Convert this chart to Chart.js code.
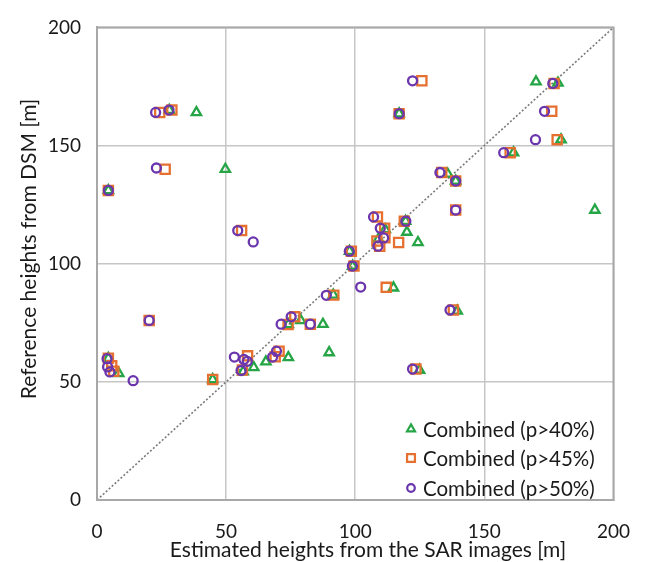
<!DOCTYPE html>
<html>
<head>
<meta charset="utf-8">
<script src="https://cdn.jsdelivr.net/npm/chart.js@4.4.1/dist/chart.umd.min.js"></script>
<style>
  html, body { margin: 0; padding: 0; background: #fff; }
  canvas { display: block; }
</style>
</head>
<body>
<canvas id="chart" width="650" height="562"></canvas>
<script>
// Серии и подписи
const seriesLabels = ['Combined (p>40%)', 'Combined (p>45%)', 'Combined (p>50%)'];
const axisTicks = [0, 50, 100, 150, 200];
const diagX = [0, 200];
const diagY = [0, 200];

// p>40% (треугольники)
const p40X = [38.5, 28, 49.7, 4.4, 117, 170, 178.5, 179.7, 161.3, 135.8, 138.9, 192.8, 111.6, 120, 124.3, 119.5, 97.8, 99, 91.5, 78.9, 74.1, 87.5, 89.9, 74.1, 65.4, 60.7, 56.6, 44.8, 8.4, 4.4, 114.8, 139.5, 124.9, 109];
const p40Y = [164, 165, 140, 131, 163.5, 177, 176.5, 152.5, 147, 138, 135, 122.7, 114.5, 113.4, 109, 118, 105.3, 99, 86.8, 76, 74.3, 74.4, 62.4, 60.3, 58.5, 56.1, 54.3, 51, 53.6, 60, 89.8, 80, 55, 110.5];

// p>45% (квадраты)
const p45X = [24.3, 29, 26.4, 4.4, 56, 125.8, 117, 177, 176.1, 178.2, 160, 133.5, 138.9, 138.9, 108.6, 119, 111.4, 108.4, 109.5, 116.8, 98.5, 99.5, 91.7, 112, 20.2, 76.6, 74, 82.6, 70.5, 69, 58.3, 56.3, 44.8, 4.4, 5.7, 6.5, 138, 123.5, 111.5];
const p45Y = [164, 165, 140, 131, 114, 177.4, 163.5, 176.3, 164.5, 152.5, 147, 138.6, 135, 122.7, 119.8, 118, 115, 109.6, 107.4, 109, 105.3, 99, 86.7, 90, 76, 77.5, 74.3, 74.4, 63, 60.6, 61, 55, 51, 60, 56.8, 54.5, 80.4, 55.4, 111];

// p>50% (круги)
const p50X = [22.7, 27.9, 23, 4.4, 54.5, 60.5, 122.2, 117, 176.5, 173.3, 169.8, 157.5, 132.8, 138.9, 138.9, 107.1, 119.6, 109.7, 111, 108.8, 97.7, 98.9, 102.1, 88.8, 20.2, 75.2, 71.3, 82.6, 69.5, 68, 53.2, 56.9, 58.2, 55.8, 14, 3.9, 4.1, 5, 136.7, 122.2];
const p50Y = [164, 165, 140.5, 131, 114, 109.2, 177.4, 163.5, 176.3, 164.5, 152.5, 147, 138.6, 135, 122.7, 119.8, 118, 115, 110.9, 107.4, 105.3, 99, 90.1, 86.6, 76, 77.5, 74.4, 74.4, 63, 60.5, 60.5, 59.5, 58.7, 54.8, 50.5, 59.8, 56.3, 54.2, 80.4, 55.4];

const colors = ['#25a545', '#e6702f', '#6a35ad'];
const styles = ['triangle', 'rect', 'circle'];
const radii = [5.4, 6.5, 4.5];
const legendRadii = [4.6, 5.6, 3.8];
const FONT = 'Lato, "Open Sans", sans-serif';
const TEXT = '#1a1a1a';

const toPoints = (xs, ys) => xs.map((x, i) => ({ x, y: ys[i] }));

function makeSeries(idx, xs, ys) {
  return {
    label: seriesLabels[idx],
    data: toPoints(xs, ys),
    pointStyle: styles[idx],
    pointRadius: radii[idx],
    pointBorderWidth: 2.3,
    borderColor: colors[idx],
    backgroundColor: 'rgba(255,255,255,0)',
    order: 2 - idx
  };
}

// Подписи осей и легенда внутри графика
const overlay = {
  id: 'overlay',
  afterDraw(chart) {
    const ctx = chart.ctx;
    const a = chart.chartArea;
    ctx.save();
    // рамка
    ctx.strokeStyle = '#a8a8a8';
    ctx.lineWidth = 2;
    ctx.strokeRect(a.left, a.top, a.right - a.left, a.bottom - a.top);

    ctx.fillStyle = TEXT;
    ctx.font = '21px ' + FONT;
    ctx.textAlign = 'center';
    ctx.textBaseline = 'middle';
    ctx.fillText('Estimated heights from the SAR images [m]', 368, 550);

    ctx.save();
    ctx.translate(29, 249);
    ctx.rotate(-Math.PI / 2);
    ctx.fillText('Reference heights from DSM [m]', 0, 0);
    ctx.restore();

    // легенда
    const rows = [429, 458, 488];
    ctx.font = '20.5px ' + FONT;
    ctx.textAlign = 'left';
    seriesLabels.forEach((label, i) => {
      ctx.save();
      ctx.strokeStyle = colors[i];
      ctx.fillStyle = '#fff';
      ctx.lineWidth = 2.2;
      Chart.helpers.drawPoint(ctx, {
        pointStyle: styles[i], radius: legendRadii[i], rotation: 0, borderWidth: 2.2
      }, 411, rows[i]);
      ctx.restore();
      ctx.fillStyle = TEXT;
      ctx.fillText(label, 423, rows[i] + 1);
    });
    ctx.restore();
  }
};

const tickFont = { family: FONT, size: 19 };

new Chart(document.getElementById('chart'), {
  type: 'scatter',
  data: {
    datasets: [
      {
        type: 'line',
        data: toPoints(diagX, diagY),
        borderColor: '#7a7a7a',
        borderWidth: 1.6,
        borderDash: [2, 2],
        pointRadius: 0,
        fill: false,
        order: 5
      },
      makeSeries(0, p40X, p40Y),
      makeSeries(1, p45X, p45Y),
      makeSeries(2, p50X, p50Y)
    ]
  },
  options: {
    responsive: false,
    animation: false,
    layout: { padding: { left: 0, top: 19, right: 34, bottom: 0 } },
    plugins: { legend: { display: false }, tooltip: { enabled: false } },
    scales: {
      x: {
        type: 'linear',
        min: axisTicks[0],
        max: axisTicks[axisTicks.length - 1],
        afterBuildTicks: s => { s.ticks = axisTicks.map(v => ({ value: v })); },
        afterFit: s => { s.height = 62; },
        grid: { color: '#c6c6c6', lineWidth: 1.5, drawTicks: false },
        border: { color: '#a8a8a8', width: 2 },
        ticks: { font: tickFont, color: TEXT, padding: 20 }
      },
      y: {
        type: 'linear',
        min: axisTicks[0],
        max: axisTicks[axisTicks.length - 1],
        afterBuildTicks: s => { s.ticks = axisTicks.map(v => ({ value: v })); },
        afterFit: s => { s.width = 97; },
        grid: { color: '#c6c6c6', lineWidth: 1.5, drawTicks: false },
        border: { color: '#a8a8a8', width: 2 },
        ticks: { font: tickFont, color: TEXT, padding: 16 }
      }
    }
  },
  plugins: [overlay]
});
</script>
</body>
</html>
